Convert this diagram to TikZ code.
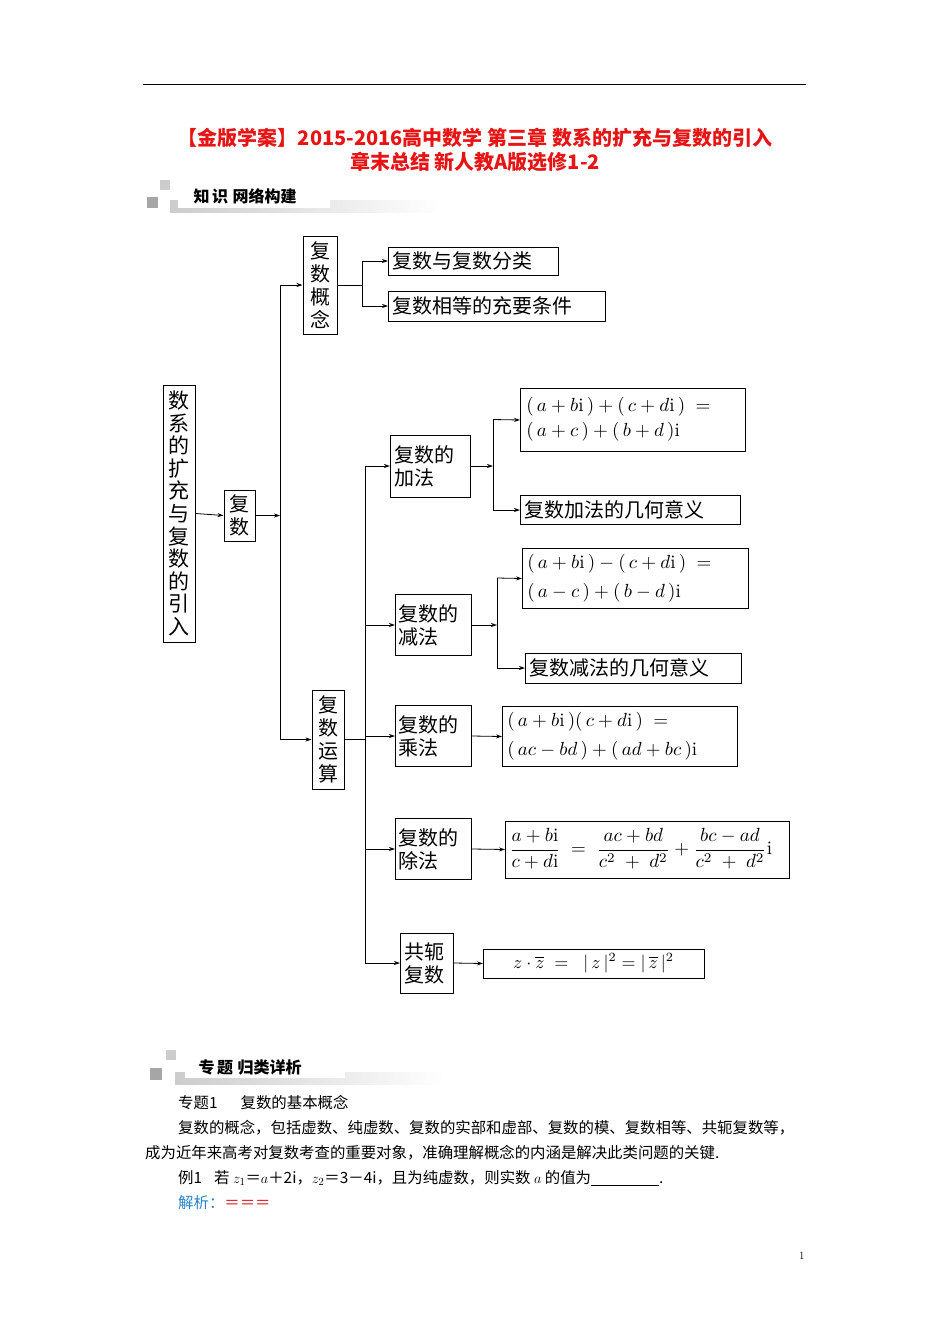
\documentclass[tikz,border=0pt]{standalone}
\usepackage{amsmath}
\usepackage{fontspec}
\newfontfamily\cjk{Noto Sans CJK SC}
\newcommand\cjkb{\cjk\bfseries}
\usetikzlibrary{arrows.meta}
\definecolor{tred}{RGB}{230,20,20}
\definecolor{tblue}{RGB}{40,130,200}
\begin{document}
\begin{tikzpicture}[x=1pt,y=-1pt,
 bx/.style={draw,line width=1pt,inner sep=2pt,font=\cjk\fontsize{20}{23}\selectfont,align=left},
 ln/.style={line width=0.8pt},
 ar/.style={line width=0.8pt,-{Stealth[length=6pt,width=4pt]}},
 fm/.style={draw,line width=1pt,inner sep=0pt,anchor=north west},
 mt/.style={anchor=west,scale=1.9,transform shape,align=left,inner sep=0pt}]
\useasboundingbox (0,0) rectangle (950,1344);
\draw[line width=0.7pt] (143,84) -- (806,84);
\node[text=tred,font=\cjkb\fontsize{20}{24}\selectfont,align=center] (title) at (475,150) {【金版学案】2015-2016高中数学 第三章 数系的扩充与复数的引入\\章末总结 新人教A版选修1-2};
% header 1
\fill[gray!40] (160,180) rectangle (170,190);
\fill[gray!70] (147,197) rectangle (158,208);
\shade[left color=gray!40,right color=white] (170,200) rectangle (440,212);
\fill[white] (178,184) rectangle (330,208);
\node[font=\cjkb\fontsize{16}{18}\selectfont,anchor=west] (h1) at (190,196) {知\,识\;网络构建};
% nodes
\node[bx,minimum width=32pt,minimum height=257pt,text width=21pt,align=center,font=\cjk\fontsize{21}{22.6}\selectfont] (root) at (179,513.5) {数\\系\\的\\扩\\充\\与\\复\\数\\的\\引\\入};
\node[bx,minimum width=31pt,minimum height=51pt,text width=21pt,align=center] (fs) at (239.5,515.5) {复\\数};
\node[bx,minimum width=34pt,minimum height=98pt,text width=21pt,align=center] (gn) at (320,285) {复\\数\\概\\念};
\node[bx,minimum width=170pt,minimum height=28pt,anchor=west,text width=162pt] (g1) at (388,261) {复数与复数分类};
\node[bx,minimum width=217pt,minimum height=30pt,anchor=west,text width=209pt] (g2) at (388,306) {复数相等的充要条件};
\node[bx,minimum width=32pt,minimum height=99pt,text width=21pt,align=center] (ys) at (328,739.5) {复\\数\\运\\算};
\node[bx,minimum width=80pt,minimum height=62pt,anchor=west,text width=72pt] (jia) at (390,466) {复数的\\加法};
\node[bx,minimum width=76pt,minimum height=61pt,anchor=west,text width=70pt] (jian) at (395,625) {复数的\\减法};
\node[bx,minimum width=76pt,minimum height=61pt,anchor=west,text width=70pt] (cheng) at (395,736) {复数的\\乘法};
\node[bx,minimum width=76pt,minimum height=61pt,anchor=west,text width=70pt] (chu) at (395,849) {复数的\\除法};
\node[bx,minimum width=53pt,minimum height=60pt,anchor=west,text width=46pt] (gong) at (400,963) {共轭\\复数};
\node[fm,minimum width=225pt,minimum height=63pt] (f1) at (520,388) {};
\node[mt] at (526,419.5) {$(\,a+b\mathrm{i}\,)+(\,c+d\mathrm{i}\,)\;=$\\[1pt]$(\,a+c\,)+(\,b+d\,)\mathrm{i}$};
\node[bx,minimum width=220pt,minimum height=29pt,anchor=west,text width=212pt] (t1) at (520,510) {复数加法的几何意义};
\node[fm,minimum width=226pt,minimum height=60pt] (f2) at (522,548) {};
\node[mt] at (527,578) {$(\,a+b\mathrm{i}\,)-(\,c+d\mathrm{i}\,)\;=$\\[3pt]$(\,a-c\,)+(\,b-d\,)\mathrm{i}$};
\node[bx,minimum width=216pt,minimum height=30pt,anchor=west,text width=208pt] (t2) at (525,668) {复数减法的几何意义};
\node[fm,minimum width=235pt,minimum height=60pt] (f3) at (502,706) {};
\node[mt] at (507,736) {$(\,a+b\mathrm{i}\,)(\,c+d\mathrm{i}\,)\;=$\\[3pt]$(\,ac-bd\,)+(\,ad+bc\,)\mathrm{i}$};
\node[fm,minimum width=284pt,minimum height=57pt] (f4) at (505,820.5) {};
\node[mt,scale=1.0] at (509,849) {$\dfrac{a+b\mathrm{i}}{c+d\mathrm{i}}\;=\;\dfrac{ac+bd}{c^2\;+\;d^2}+\dfrac{bc-ad}{c^2\;+\;d^2}\mathrm{i}$};
\node[fm,minimum width=221pt,minimum height=29pt] (f5) at (483,948.5) {};
\node[scale=1.8,transform shape] at (593.5,963) {$z\cdot\overline{z}\;=\;\;|\,z\,|^2=|\,\overline{z}\,|^2$};
% connectors
\draw[ar] (root.east) -- (fs.west);
\draw[ar] (fs.east) -- (280,515.5);
\draw[ln] (280,285) -- (280,739.5);
\draw[ar] (280,285) -- (gn.west);
\draw[ar] (280,739.5) -- (ys.west);
\draw[ln] (gn.east) -- (362,285);
\draw[ln] (362,261) -- (362,306);
\draw[ar] (362,261) -- (g1.west);
\draw[ar] (362,306) -- (g2.west);
\draw[ln] (ys.east) -- (365,739.5);
\draw[ln] (365,466) -- (365,963);
\draw[ar] (365,466) -- (jia.west);
\draw[ar] (365,625) -- (jian.west);
\draw[ar] (365,736) -- (cheng.west);
\draw[ar] (365,849) -- (chu.west);
\draw[ar] (365,963) -- (gong.west);
\draw[ar] (jia.east) -- (493,466);
\draw[ln] (493,419.5) -- (493,510);
\draw[ar] (493,419.5) -- (f1.west);
\draw[ar] (493,510) -- (t1.west);
\draw[ar] (jian.east) -- (497,625);
\draw[ln] (497,578) -- (497,668);
\draw[ar] (497,578) -- (f2.west);
\draw[ar] (497,668) -- (t2.west);
\draw[ar] (cheng.east) -- (f3.west);
\draw[ar] (chu.east) -- (f4.west);
\draw[ar] (gong.east) -- (f5.west);
% header 2
\fill[gray!40] (166,1050) rectangle (176,1060);
\fill[gray!70] (150,1068) rectangle (162,1080);
\shade[left color=gray!40,right color=white] (175,1072) rectangle (445,1084);
\fill[white] (185,1054) rectangle (345,1078);
\node[font=\cjkb\fontsize{16}{18}\selectfont,anchor=west] (h2) at (195,1067) {专\,题\;归类详析};
% text
\begin{scope}[every node/.style={anchor=west,font=\cjk\fontsize{15.4}{17}\selectfont,inner sep=0pt}]
\node (p1) at (178,1103) {专题1\quad\; 复数的基本概念};
\node (p2) at (178,1128) {复数的概念，包括虚数、纯虚数、复数的实部和虚部、复数的模、复数相等、共轭复数等，};
\node (p3) at (145,1153) {成为近年来高考对复数考查的重要对象，准确理解概念的内涵是解决此类问题的关键.};
\node (p4) at (178,1178) {例1\;\; 若 $z_1$＝$a$＋2i，$z_2$＝3－4i，且为纯虚数，则实数 $a$ 的值为\underline{\hspace{68pt}}.};
\node[text=tblue] (p5) at (178,1203) {解析：\textcolor{tred}{＝＝＝}};
\node[font=\fontsize{11}{12}\selectfont] (pg) at (799,1256) {1};
\end{scope}
\end{tikzpicture}
\end{document}
